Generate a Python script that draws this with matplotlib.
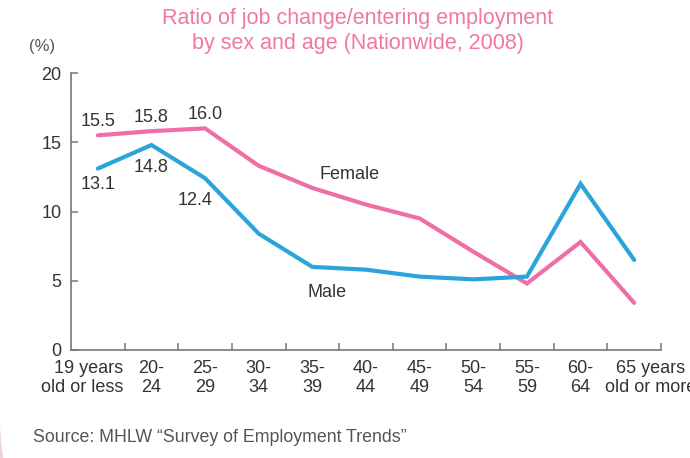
import matplotlib.pyplot as plt
import numpy as np
from matplotlib.patches import FancyBboxPatch
from matplotlib.transforms import ScaledTranslation

# data
ages = ["19 years\nold or less", "20-\n24", "25-\n29", "30-\n34", "35-\n39", "40-\n44",
        "45-\n49", "50-\n54", "55-\n59", "60-\n64", "65 years\nold or more"]
female = [15.5, 15.8, 16.0, 13.3, 11.7, 10.5, 9.5, 7.1, 4.8, 7.8, 3.4]
male = [13.1, 14.8, 12.4, 8.4, 6.0, 5.8, 5.3, 5.1, 5.3, 12.0, 6.5]

plt.rcParams['font.family'] = ['Liberation Sans', 'DejaVu Sans']
text_col = '#333333'
pink = '#EE6FA6'
blue = '#2BA4DC'
fs = 13

fig = plt.figure(figsize=(6.9, 4.58), dpi=100, facecolor='#EBD4DF')

# white card; only its rounded bottom-left corner shows on the canvas
card = FancyBboxPatch((-0.005, -1.5), 30, 30, boxstyle="round,pad=0,rounding_size=2",
                      transform=fig.dpi_scale_trans, facecolor='white', edgecolor='none',
                      zorder=-5)
fig.patches.append(card)

ax = fig.add_axes([71 / 690, 1 - 350 / 458, 590 / 690, 277 / 458])
ax.patch.set_visible(False)

x = np.arange(len(ages))
ax.plot(x, female, color=pink, lw=3, solid_capstyle='round', solid_joinstyle='miter')
ax.plot(x, male, color=blue, lw=3, solid_capstyle='round', solid_joinstyle='miter')

ax.set_xlim(-0.5, len(ages) - 0.5)
ax.set_ylim(0, 20)
ax.set_yticks([0, 5, 10, 15, 20])
ax.set_xticks(x)
ax.set_xticklabels(ages, fontsize=fs, color=text_col, linespacing=1.15)
ax.set_xticks(np.arange(len(ages)) + 0.5, minor=True)
ax.tick_params(axis='x', which='major', length=0, pad=7)
ax.tick_params(axis='x', which='minor', direction='in', length=5, width=1.1, color='#777777')
ax.tick_params(axis='y', direction='in', length=5, width=1.1, color='#777777',
               labelsize=fs, labelcolor=text_col, pad=7)
for s in ['top', 'right']:
    ax.spines[s].set_visible(False)
for s in ['left', 'bottom']:
    ax.spines[s].set_color('#777777')
    ax.spines[s].set_linewidth(1.2)

# the two long end labels sit off-centre in the reference
labels = ax.get_xticklabels()
labels[0].set_multialignment('right')
labels[0].set_transform(labels[0].get_transform() + ScaledTranslation(-0.16, 0, fig.dpi_scale_trans))
labels[-1].set_transform(labels[-1].get_transform() + ScaledTranslation(0.16, 0, fig.dpi_scale_trans))

# value labels for the first three age groups
for i in range(3):
    ax.annotate(f"{female[i]:.1f}", (x[i], female[i]), xytext=(0, 10),
                textcoords='offset points', ha='center', va='center',
                fontsize=fs, color=text_col)
male_off = [(0, -11.5), (0, -16.5), (-7, -16)]
for i in range(3):
    ax.annotate(f"{male[i]:.1f}", (x[i], male[i]), xytext=male_off[i],
                textcoords='offset points', ha='center', va='center',
                fontsize=fs, color=text_col)

ax.text(4.7, 12.7, "Female", fontsize=fs, color=text_col, ha='center', va='center')
ax.text(4.28, 4.15, "Male", fontsize=fs, color=text_col, ha='center', va='center')

fig.text(358 / 690, 1 - 31 / 458, "Ratio of job change/entering employment\nby sex and age (Nationwide, 2008)",
         ha='center', va='center', fontsize=15.5, color='#F0799C', linespacing=1.2)
fig.text(42 / 690, 1 - 47 / 458, "(%)", ha='center', va='center', fontsize=12, color='#555555')
fig.text(33 / 690, 1 - 438 / 458, "Source: MHLW \u201cSurvey of Employment Trends\u201d",
         ha='left', va='center', fontsize=12.8, color='#555555')

fig.savefig('out.png', dpi=100, facecolor=fig.get_facecolor())
